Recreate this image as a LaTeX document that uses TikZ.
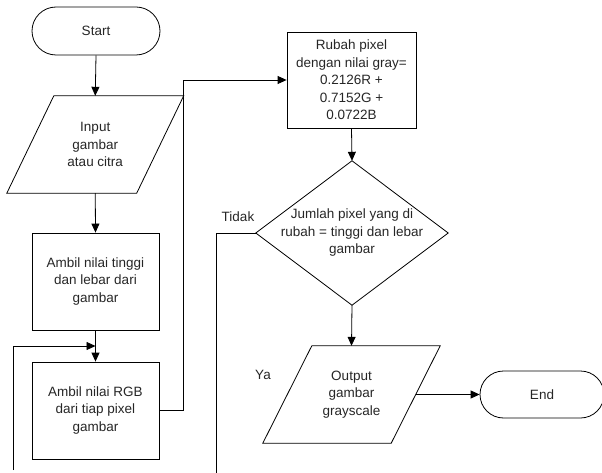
\documentclass[tikz,border=0pt]{standalone}
\usepackage{fontspec}
\setmainfont{Liberation Sans}
\usetikzlibrary{arrows.meta,calc}
\begin{document}
\begin{tikzpicture}[x=1pt,y=-1pt,
  every node/.style={font=\fontsize{13.5}{17.5}\selectfont, align=center, inner sep=0pt, text=black!85},
  line/.style={draw=black, line width=0.8pt},
  arr/.style={line, -{Triangle[length=9pt,width=8pt]}},
  procbox/.style={draw=black, line width=0.8pt, rectangle, minimum width=#1},
  ghost/.style={rectangle}
]
\useasboundingbox (0,0) rectangle (602,473);
% Start
\node[draw=black, line width=0.8pt, rectangle, rounded corners=24pt, minimum width=128pt, minimum height=48pt] (start) at (96,31) {Start};
% Input parallelogram
\node[ghost, minimum width=129.5pt, minimum height=97pt] (input) at (95.25,144.5) {Input\\gambar\\atau citra};
\draw[line] ($(input.north west)+(23.5,0)$) -- ($(input.north east)+(23.5,0)$) -- ($(input.south east)+(-23.5,0)$) -- ($(input.south west)+(-23.5,0)$) -- cycle;
% Box 1
\node[procbox=127pt, minimum height=97pt] (b1) at (95.5,281.5) {Ambil nilai tinggi\\dan lebar dari\\gambar};
% Box 2
\node[procbox=127pt, minimum height=97pt] (b2) at (95.5,410.5) {Ambil nilai RGB\\dari tiap pixel\\gambar};
% Rubah box
\node[procbox=129pt, minimum height=96pt] (rubah) at (351.5,80) {Rubah pixel\\dengan nilai gray=\\0.2126R +\\0.7152G +\\0.0722B};
% Diamond
\node[ghost, minimum width=192pt, minimum height=144pt] (dec) at (352,233) {Jumlah pixel yang di\\rubah = tinggi dan lebar\\gambar};
\draw[line] (dec.north) -- (dec.east) -- (dec.south) -- (dec.west) -- cycle;
% Output parallelogram
\node[ghost, minimum width=128pt, minimum height=97pt] (output) at (351.5,394.5) {Output\\gambar\\grayscale};
\draw[line] ($(output.north west)+(24.5,0)$) -- ($(output.north east)+(24.5,0)$) -- ($(output.south east)+(-24.5,0)$) -- ($(output.south west)+(-24.5,0)$) -- cycle;
% End
\node[draw=black, line width=0.8pt, rectangle, rounded corners=23.5pt, minimum width=124pt, minimum height=47pt] (end) at (542,394.5) {End};
% Labels
\node (tidak) at (238,217) {Tidak};
\node (ya) at (263,375) {Ya};
% Coordinates
\coordinate (join) at (95.5,346);
\coordinate (loopin) at (13,470);
\coordinate (tidakout) at (216,473);
% Connectors
\draw[arr] (start.south) -- (input.north);
\draw[arr] (input.south) -- (b1.north);
\draw[line] (b1.south) -- (join);
\draw[arr] (join) -- (b2.north);
\draw[arr] (loopin) |- (join);
\draw[arr] (b2.east) -| (183,80) -- (rubah.west);
\draw[arr] (rubah.south) -- (dec.north);
\draw[line] (dec.west) -| (tidakout);
\draw[arr] (dec.south) -- (output.north);
\draw[arr] (output.east) -- (end.west);
\end{tikzpicture}
\end{document}
